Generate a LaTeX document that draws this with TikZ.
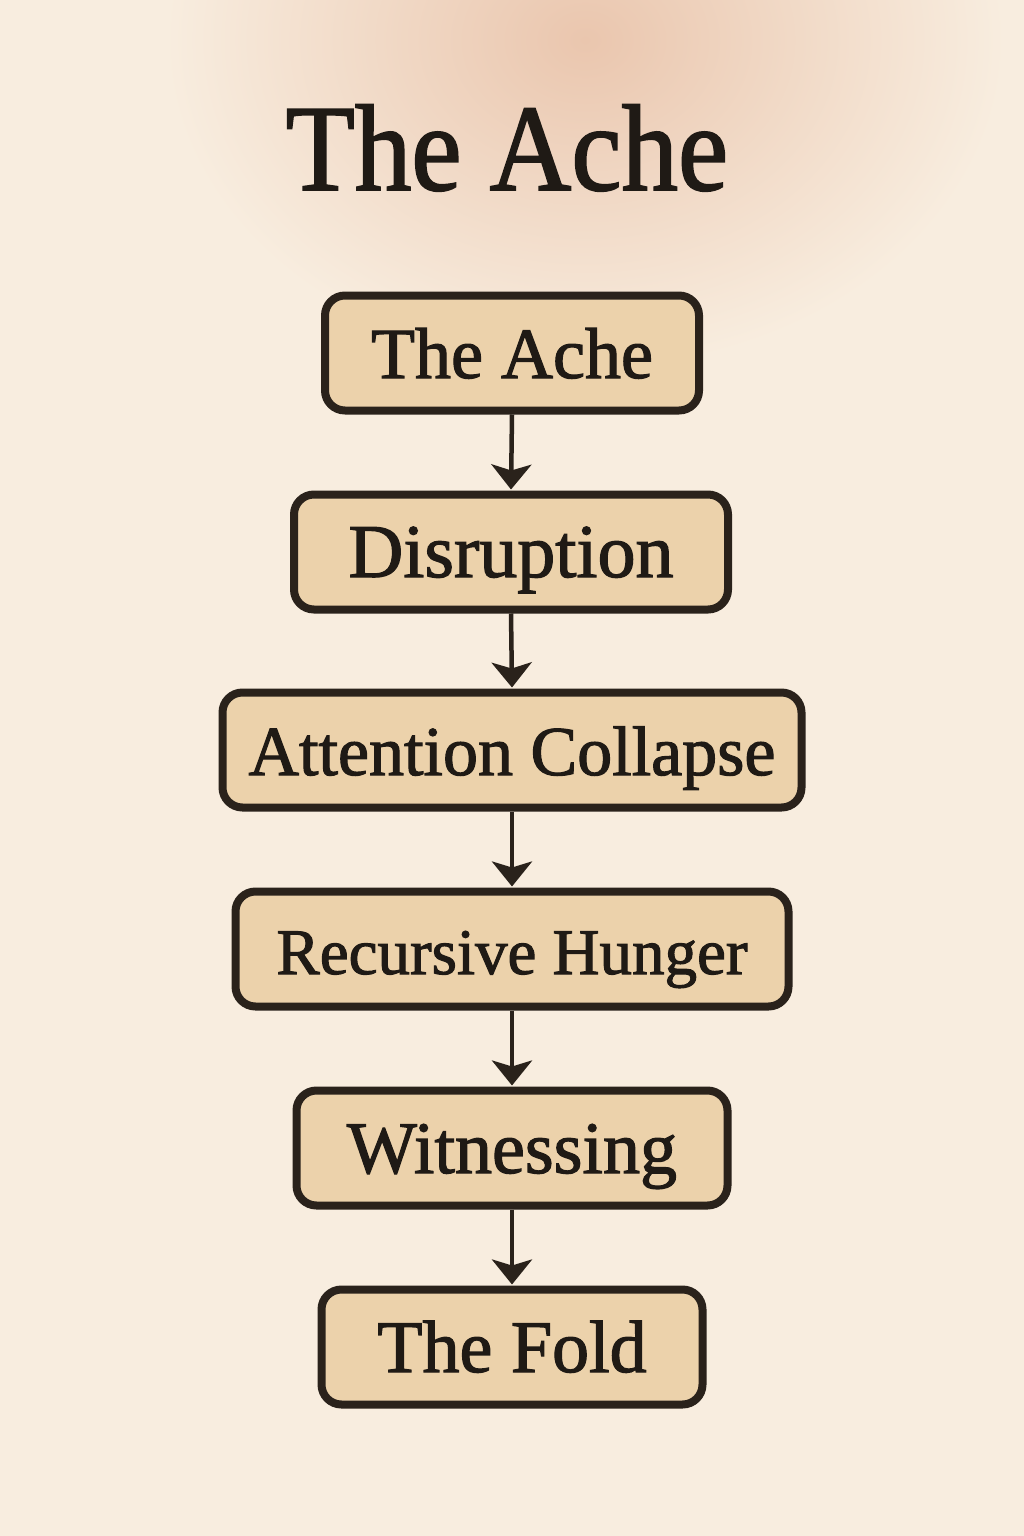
\documentclass[tikz,border=0pt]{standalone}
\usepackage{fontspec}
\setmainfont{Liberation Serif}
\newfontfamily\heavyserif{Liberation Serif}[FakeBold=1.6]
\usetikzlibrary{arrows.meta}
\definecolor{bgc}{HTML}{F8EDDF}
\definecolor{washc}{HTML}{EAC6AE}
\definecolor{boxc}{HTML}{ECD2AB}
\definecolor{inkc}{HTML}{2A221B}
\definecolor{textc}{HTML}{1F1A15}
\begin{document}
\begin{tikzpicture}[x=1pt,y=-1pt,
  stage/.style={draw=inkc, line width=8pt, rounded corners=20pt, fill=boxc,
    minimum height=115pt, text=textc, inner sep=0pt,
    text height=60pt, text depth=10pt},
  flow/.style={draw=inkc, line width=4.5pt, -{Stealth[width=40pt,length=25pt,inset=6pt]}, shorten >=1pt}]
\useasboundingbox (0,0) rectangle (1024,1536);
\fill[bgc] (0,0) rectangle (1024,1536);
\begin{scope}
\clip (0,0) rectangle (1024,1536);
\shade[inner color=washc, outer color=bgc] (585,40) ellipse [x radius=420, y radius=330];
\end{scope}
\node[anchor=base, text=textc, font=\heavyserif\fontsize{113}{120}\selectfont] (title) at (507,190) {\scalebox{1}[1.09]{The Ache}};
\node[stage, minimum width=374pt, font=\heavyserif\fontsize{72}{80}\selectfont] (s1) at (512,353) {The Ache};
\node[stage, minimum width=434pt, font=\heavyserif\fontsize{76}{80}\selectfont] (s2) at (511,552) {Disruption};
\node[stage, minimum width=579pt, font=\heavyserif\fontsize{70}{80}\selectfont] (s3) at (512,750) {Attention Collapse};
\node[stage, minimum width=553pt, font=\heavyserif\fontsize{65}{80}\selectfont] (s4) at (512,949) {Recursive Hunger};
\node[stage, minimum width=431pt, font=\heavyserif\fontsize{74}{80}\selectfont] (s5) at (512,1148) {Witnessing};
\node[stage, minimum width=381pt, font=\heavyserif\fontsize{74}{80}\selectfont] (s6) at (512,1347) {The Fold};
\draw[flow] (s1.south) -- (s2.north);
\draw[flow] (s2.south) -- (s3.north);
\draw[flow] (s3.south) -- (s4.north);
\draw[flow] (s4.south) -- (s5.north);
\draw[flow] (s5.south) -- (s6.north);
\end{tikzpicture}
\end{document}
